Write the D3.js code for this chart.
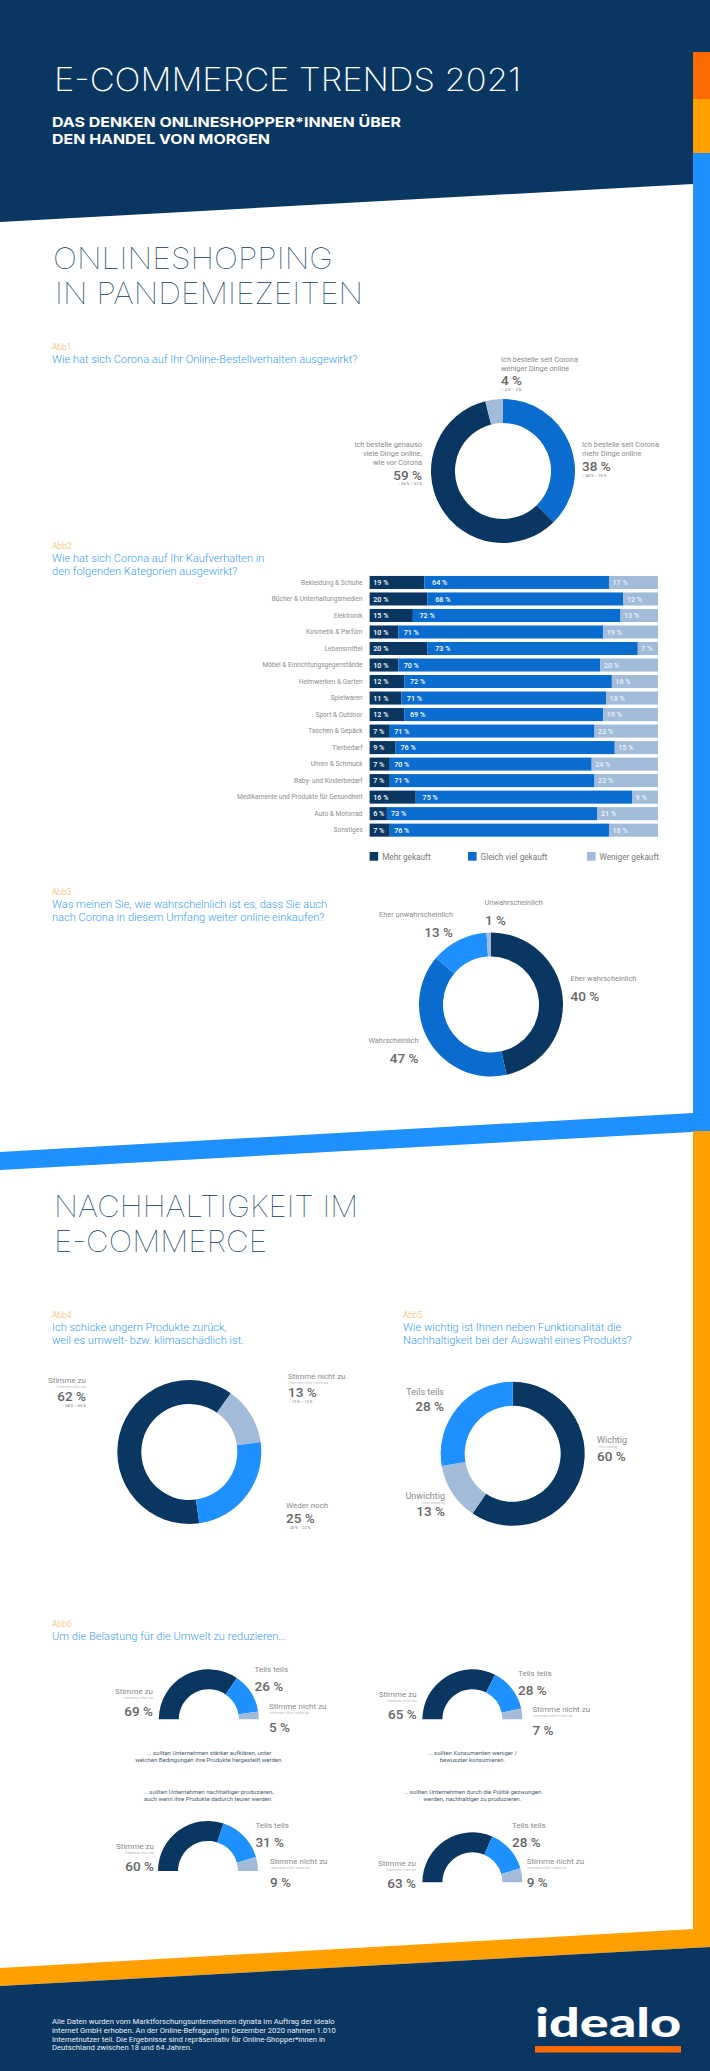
<!DOCTYPE html>
<html>
<head>
<meta charset="utf-8">
<style>
html, body { margin: 0; padding: 0; background: #fff; }
svg { display: block; }
text { font-family: Roboto, sans-serif; }
</style>
<script src="https://cdn.jsdelivr.net/npm/d3@7"></script>
</head>
<body>
<svg id="chart" width="710" height="2071"></svg>
<script>
var navy = '#0a3761', mid = '#0a6ccf', bright = '#1e90ff', light = '#a2bbd9',
    amber = '#ff9f00', orange = '#fa6a00', grey = '#8a8a8a', big = '#666666';

// Abb2
var categories = ['Bekleidung & Schuhe', 'Bücher & Unterhaltungsmedien', 'Elektronik', 'Kosmetik & Parfüm',
    'Lebensmittel', 'Möbel & Einrichtungsgegenstände', 'Heimwerken & Garten', 'Spielwaren', 'Sport & Outdoor',
    'Taschen & Gepäck', 'Tierbedarf', 'Uhren & Schmuck', 'Baby- und Kinderbedarf',
    'Medikamente und Produkte für Gesundheit', 'Auto & Motorrad', 'Sonstiges'];
var mehr = [19, 20, 15, 10, 20, 10, 12, 11, 12, 7, 9, 7, 7, 16, 6, 7];
var gleich = [64, 68, 72, 71, 73, 70, 72, 71, 69, 71, 76, 70, 71, 75, 73, 76];
var weniger = [17, 12, 13, 19, 7, 20, 16, 18, 19, 22, 15, 24, 22, 9, 21, 18];

// donuts, in drawing order clockwise
var abb1 = [38, 59, 4];
var abb3 = [47, 40, 13, 1];
var abb4 = [62, 13, 25];
var abb5 = [60, 13, 28];

// half donuts: stimme zu, teils teils, stimme nicht zu
var abb6a = [69, 26, 5];
var abb6b = [65, 28, 7];
var abb6c = [60, 31, 9];
var abb6d = [63, 28, 9];

var svg = d3.select('#chart');

function txt(x, y, s, size, color, anchor, weight, family) {
    return svg.append('text').attr('x', x).attr('y', y).text(s)
        .attr('font-size', size).attr('fill', color)
        .attr('text-anchor', anchor || 'start')
        .attr('font-weight', weight || 400)
        .style('font-family', family || null);
}

function poly(points, color) {
    svg.append('polygon').attr('points', points.join(' ')).attr('fill', color);
}

function donut(cx, cy, R, r, values, colors, start, end) {
    var pie = d3.pie().sort(null).startAngle(start).endAngle(end);
    var arc = d3.arc().outerRadius(R).innerRadius(r);
    svg.append('g').attr('transform', 'translate(' + cx + ',' + cy + ')')
        .selectAll('path').data(pie(values)).enter().append('path')
        .attr('d', arc).attr('fill', function (d, i) { return colors[i]; });
}

function fitted(x, y, s, size, color, weight, len) {
    return txt(x, y, s, size, color, 'start', weight, 'Inter')
        .attr('textLength', len).attr('lengthAdjust', 'spacingAndGlyphs');
}

function abb(x, y, name, lines) {
    txt(x, y, name, 8.5, '#f3b65a', 'start', 300);
    lines.forEach(function (l, i) {
        txt(x, y + 13 + i * 13.4, l, 11.1, '#3d9df5', 'start', 300);
    });
}

function num(x, y, s, anchor) {
    txt(x, y, s, 13.5, big, anchor, 500);
}

function tiny(x, y, s, anchor) {
    txt(x, y, s, 3.8, '#777', anchor, 400);
}

function small(x, y, s, anchor, size) {
    txt(x, y, s, size || 7.4, grey, anchor, 400);
}

// background bands
poly(['0,0', '710,0', '710,184', '693,184', '0,222'], navy);
svg.append('rect').attr('x', 693).attr('y', 52).attr('width', 17).attr('height', 47).attr('fill', orange);
svg.append('rect').attr('x', 693).attr('y', 99).attr('width', 17).attr('height', 54).attr('fill', amber);
svg.append('rect').attr('x', 693).attr('y', 153).attr('width', 17).attr('height', 978).attr('fill', bright);
poly(['0,1152', '693,1113', '710,1113', '710,1131', '0,1170'], bright);
svg.append('rect').attr('x', 693).attr('y', 1131).attr('width', 17).attr('height', 810).attr('fill', amber);
poly(['0,1968', '693,1929', '710,1929', '710,1947', '0,1986'], amber);
poly(['0,1986', '710,1947', '710,2071', '0,2071'], navy);

// header
fitted(54, 91, 'E-COMMERCE TRENDS 2021', 32, '#fff', 200, 467);
fitted(52, 127, 'DAS DENKEN ONLINESHOPPER*INNEN ÜBER', 13.5, '#fff', 700, 349);
fitted(52, 144, 'DEN HANDEL VON MORGEN', 13.5, '#fff', 700, 218);

fitted(53, 269, 'ONLINESHOPPING', 29, navy, 100, 280);
fitted(55, 304, 'IN PANDEMIEZEITEN', 29, navy, 100, 308);

// Abb1
abb(52, 350, 'Abb1', ['Wie hat sich Corona auf Ihr Online-Bestellverhalten ausgewirkt?']);
donut(503, 471, 72, 48, abb1, [mid, navy, light], 0, 2 * Math.PI);
small(501, 362, 'Ich bestelle seit Corona');
small(501, 371, 'weniger Dinge online');
num(501, 385, '4 %');
tiny(501, 391, '♀ 4 %  ♂ 3 %');
small(582, 447, 'Ich bestelle seit Corona');
small(582, 456, 'mehr Dinge online');
num(582, 471, '38 %');
tiny(582, 477, '♀ 40 % ♂ 35 %');
small(422, 447, 'Ich bestelle genauso', 'end');
small(422, 456, 'viele Dinge online,', 'end');
small(422, 465, 'wie vor Corona', 'end');
num(422, 480, '59 %', 'end');
tiny(422, 485, '♀ 56 % ♂ 62 %', 'end');

// Abb2
abb(52, 549, 'Abb2', ['Wie hat sich Corona auf Ihr Kaufverhalten in', 'den folgenden Kategorien ausgewirkt?']);

var x = d3.scaleLinear().domain([0, 100]).range([369.6, 658]).clamp(true);
var y = d3.scaleBand().domain(categories).range([574.2, 838.4]).paddingInner(0.21).paddingOuter(0.105);

var yAxis = svg.append('g').attr('transform', 'translate(369.6,0)')
    .call(d3.axisLeft(y).tickSize(0).tickPadding(7));
yAxis.select('.domain').remove();
yAxis.selectAll('text').attr('font-size', 6.6).attr('fill', '#8d8d8d').style('font-family', 'Roboto, sans-serif');

var barSeries = [
    { vals: mehr, from: function () { return 0; }, color: navy },
    { vals: gleich, from: function (i) { return mehr[i]; }, color: mid },
    { vals: weniger, from: function (i) { return mehr[i] + gleich[i]; }, color: light }
];
barSeries.forEach(function (s, k) {
    var g = svg.append('g');
    g.selectAll('rect').data(categories).enter().append('rect')
        .attr('x', function (d, i) { return x(s.from(i)); })
        .attr('y', function (d) { return y(d); })
        .attr('width', function (d, i) { return x(s.from(i) + s.vals[i]) - x(s.from(i)); })
        .attr('height', y.bandwidth())
        .attr('fill', s.color);
    g.selectAll('text').data(categories).enter().append('text')
        .attr('x', function (d, i) {
            var off = k === 0 ? 3.6 : (k === 1 ? 2.4 + 0.28 * mehr[i] : 3.5);
            return x(s.from(i)) + off;
        })
        .attr('y', function (d) { return y(d) + y.bandwidth() / 2 + 2.6; })
        .attr('font-size', 7.2).attr('font-weight', 500)
        .attr('fill', k === 2 ? '#eef3f9' : '#fff')
        .text(function (d, i) { return s.vals[i] + ' %'; });
});

var legendX = [369.6, 468, 587];
['Mehr gekauft', 'Gleich viel gekauft', 'Weniger gekauft'].forEach(function (l, i) {
    svg.append('rect').attr('x', legendX[i]).attr('y', 852).attr('width', 8.6).attr('height', 8.7)
        .attr('fill', [navy, mid, light][i]);
    txt(legendX[i] + 12.6, 859.5, l, 8.2, '#777');
});

// Abb3
abb(52, 895, 'Abb3', ['Was meinen Sie, wie wahrscheinlich ist es, dass Sie auch', 'nach Corona in diesem Umfang weiter online einkaufen?']);
donut(491, 1004.5, 72, 48, abb3, [navy, mid, bright, light], 0, 2 * Math.PI);
small(484.6, 905, 'Unwahrscheinlich');
num(485, 925, '1 %');
small(453, 917, 'Eher unwahrscheinlich', 'end');
num(453, 937, '13 %', 'end');
small(570.6, 981, 'Eher wahrscheinlich');
num(570.6, 1001, '40 %');
small(418.5, 1043, 'Wahrscheinlich', 'end');
num(418.5, 1063, '47 %', 'end');

// Nachhaltigkeit
fitted(54, 1217, 'NACHHALTIGKEIT IM', 29, navy, 100, 304);
fitted(54, 1252, 'E-COMMERCE', 29, navy, 100, 213);

abb(52, 1318, 'Abb4', ['Ich schicke ungern Produkte zurück,', 'weil es umwelt- bzw. klimaschädlich ist.']);
var a4 = 172 * Math.PI / 180;
donut(189.3, 1452, 72, 48, abb4, [navy, light, bright], a4, a4 + 2 * Math.PI);
small(86, 1383, 'Stimme zu', 'end', 8);
txt(86, 1387.5, '/stimme eher zu', 4.2, '#999', 'end', 300);
num(86, 1401, '62 %', 'end');
tiny(86, 1407, '♀ 58 % ♂ 66 %', 'end');
small(288, 1379, 'Stimme nicht zu', 'start', 8);
txt(288, 1384, '/stimme eher nicht zu', 4.2, '#999', 'start', 300);
num(288, 1397, '13 %');
tiny(288, 1403, '♀ 13 % ♂ 13 %');
small(286, 1508, 'Weder noch', 'start', 8);
num(286, 1523, '25 %');
tiny(286, 1529, '♀ 28 % ♂ 22 %');

abb(403, 1318, 'Abb5', ['Wie wichtig ist Ihnen neben Funktionalität die', 'Nachhaltigkeit bei der Auswahl eines Produkts?']);
donut(512.7, 1453.8, 72, 48, abb5, [navy, light, bright], 0, 2 * Math.PI);
small(597, 1443, 'Wichtig', 'start', 9);
txt(597, 1448, '/ eher wichtig', 3.4, '#999', 'start', 300);
num(597, 1461, '60 %');
small(444, 1395, 'Teils teils', 'end', 9);
num(444, 1411, '28 %', 'end');
small(445, 1499, 'Unwichtig', 'end', 9);
txt(445, 1504, '/ eher unwichtig', 3.4, '#999', 'end', 300);
num(445, 1516, '13 %', 'end');

// Abb6
abb(52, 1627, 'Abb6', ['Um die Belastung für die Umwelt zu reduzieren...']);

function half(cx, cy, values) {
    donut(cx, cy, 50, 30, values, [navy, bright, light], -Math.PI / 2, Math.PI / 2);
}

function agree(x0, y0, pct) {
    small(x0, y0, 'Stimme zu', 'end', 8);
    txt(x0, y0 + 5, '/stimme eher zu', 4.2, '#999', 'end', 300);
    num(x0, y0 + 22, pct + ' %', 'end');
}

function partly(x0, y0, pct) {
    small(x0, y0, 'Teils teils', 'start', 8);
    num(x0, y0 + 19, pct + ' %');
}

function disagree(x0, y0, pct) {
    small(x0, y0, 'Stimme nicht zu', 'start', 8);
    txt(x0, y0 + 5, '/stimme eher nicht zu', 4.2, '#999', 'start', 300);
    num(x0, y0 + 23, pct + ' %');
}

function caption(cx, y0, lines) {
    lines.forEach(function (l, i) {
        txt(cx, y0 + i * 7, l, 6, '#4a5d72', 'middle');
    });
}

half(208.8, 1719.3, abb6a);
agree(153, 1694, abb6a[0]);
partly(254.5, 1672, abb6a[1]);
disagree(269, 1709, abb6a[2]);
caption(209, 1755, ['... sollten Unternehmen stärker aufklären, unter', 'welchen Bedingungen ihre Produkte hergestellt werden.']);

half(472.4, 1719.3, abb6b);
agree(416.7, 1697, abb6b[0]);
partly(518, 1676, abb6b[1]);
disagree(532.6, 1712, abb6b[2]);
caption(472.4, 1755, ['... sollten Konsumenten weniger /', 'bewusster konsumieren.']);

caption(208.3, 1793.7, ['... sollten Unternehmen nachhaltiger produzieren,', 'auch wenn ihre Produkte dadurch teurer werden.']);
half(208, 1871, abb6c);
agree(154, 1849, abb6c[0]);
partly(255.4, 1828, abb6c[1]);
disagree(270, 1864, abb6c[2]);

caption(472.4, 1793.7, ['... sollten Unternehmen durch die Politik gezwungen', 'werden, nachhaltiger zu produzieren.']);
half(472.4, 1882.3, abb6d);
agree(416, 1866, abb6d[0]);
partly(512, 1828, abb6d[1]);
disagree(526.7, 1864, abb6d[2]);

// footer
['Alle Daten wurden vom Marktforschungsunternehmen dynata im Auftrag der idealo',
 'internet GmbH erhoben. An der Online-Befragung im Dezember 2020 nahmen 1.010',
 'Internetnutzer teil. Die Ergebnisse sind repräsentativ für Online-Shopper*innen in',
 'Deutschland zwischen 18 und 64 Jahren.'].forEach(function (l, i) {
    txt(52, 2023.7 + i * 8.9, l, 7.7, '#e8edf3');
});
txt(535, 2037, 'idealo', 40, '#fff', 'start', 900, 'Lato')
    .attr('textLength', 146).attr('lengthAdjust', 'spacingAndGlyphs');
svg.append('rect').attr('x', 535).attr('y', 2046).attr('width', 146).attr('height', 6.5).attr('fill', orange);
</script>
</body>
</html>
